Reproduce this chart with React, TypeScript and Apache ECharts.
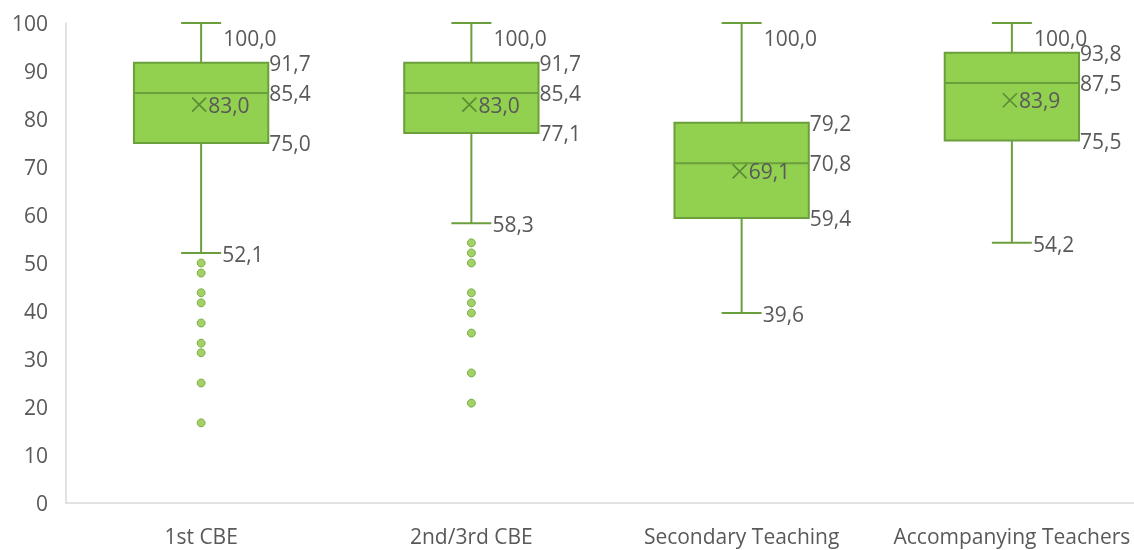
import React, { useEffect, useRef } from "react";
import * as echarts from "echarts";

const categories = ["1st CBE", "2nd/3rd CBE", "Secondary Teaching", "Accompanying Teachers"];
const minValues = [52.1, 58.3, 39.6, 54.2];
const q1Values = [75.0, 77.1, 59.4, 75.5];
const medianValues = [85.4, 85.4, 70.8, 87.5];
const q3Values = [91.7, 91.7, 79.2, 93.8];
const maxValues = [100.0, 100.0, 100.0, 100.0];
const meanValues = [83.0, 83.0, 69.1, 83.9];
const outliers1 = [50.0, 47.9, 43.8, 41.7, 37.5, 33.3, 31.3, 25.0, 16.7];
const outliers2 = [54.2, 52.1, 50.0, 43.8, 41.7, 39.6, 35.4, 27.1, 20.8];
const yTicks = { min: 0, max: 100, interval: 10 };

const BORDER = "#6b9f3c";
const FILL = "#92d050";
const TEXT = "#595959";
const FONT = '21px "Open Sans", sans-serif';

const fmt = (v: number) => v.toFixed(1).replace(".", ",");

export default function App() {
  const ref = useRef<HTMLDivElement>(null);
  useEffect(() => {
    if (!ref.current) return;
    const chart = echarts.init(ref.current, null, { renderer: "svg" });
    const boxData = categories.map((_, i) => [
      i, minValues[i], q1Values[i], medianValues[i], q3Values[i], maxValues[i], meanValues[i],
    ]);
    const outlierData: number[][] = [];
    outliers1.forEach((v) => outlierData.push([0, v]));
    outliers2.forEach((v) => outlierData.push([1, v]));

    const renderItem = (params: any, api: any) => {
      const xi = api.value(0);
      const p = (k: number) => api.coord([xi, api.value(k)]);
      const [cx, yMin] = p(1);
      const yQ1 = p(2)[1];
      const yMed = p(3)[1];
      const yQ3 = p(4)[1];
      const yMax = p(5)[1];
      const yMean = p(6)[1];
      const bw = api.size([1, 0])[0] * 0.497;
      const half = bw / 2;
      const cap = 20;
      const ls = { stroke: BORDER, lineWidth: 2 };
      const txt = (t: string, x: number, y: number) => ({
        type: "text",
        style: { text: t, x, y, fill: TEXT, font: FONT, align: "left", verticalAlign: "middle" },
      });
      const mx = cx - 2;
      const ms = 7;
      return {
        type: "group",
        children: [
          { type: "line", shape: { x1: cx, y1: yMax, x2: cx, y2: yQ3 }, style: ls },
          { type: "line", shape: { x1: cx, y1: yQ1, x2: cx, y2: yMin }, style: ls },
          { type: "line", shape: { x1: cx - cap, y1: yMax, x2: cx + cap, y2: yMax }, style: ls },
          { type: "line", shape: { x1: cx - cap, y1: yMin, x2: cx + cap, y2: yMin }, style: ls },
          {
            type: "rect",
            shape: { x: cx - half, y: yQ3, width: bw, height: yQ1 - yQ3 },
            style: { fill: FILL, stroke: BORDER, lineWidth: 2 },
          },
          { type: "line", shape: { x1: cx - half, y1: yMed, x2: cx + half, y2: yMed }, style: ls },
          { type: "line", shape: { x1: mx - ms, y1: yMean - ms, x2: mx + ms, y2: yMean + ms }, style: { stroke: "#5b8a35", lineWidth: 1.6 } },
          { type: "line", shape: { x1: mx - ms, y1: yMean + ms, x2: mx + ms, y2: yMean - ms }, style: { stroke: "#5b8a35", lineWidth: 1.6 } },
          txt(fmt(api.value(5)), cx + cap + 2, yMax + 15),
          txt(fmt(api.value(4)), cx + half + 1, yQ3),
          txt(fmt(api.value(3)), cx + half + 1, yMed),
          txt(fmt(api.value(2)), cx + half + 1, yQ1),
          txt(fmt(api.value(1)), cx + cap + 1, yMin + 1),
          txt(fmt(api.value(6)), mx + ms + 2, yMean),
        ],
      };
    };

    chart.setOption({
      animation: false,
      grid: { left: 66, right: 3, top: 23, bottom: 47, containLabel: false },
      xAxis: {
        type: "category",
        data: categories,
        boundaryGap: true,
        axisLine: { show: true, lineStyle: { color: "#d9d9d9", width: 1.5 } },
        axisTick: { show: false },
        axisLabel: {
          color: TEXT,
          fontSize: 21,
          fontFamily: "Open Sans",
          margin: 22,
          interval: 0,
          hideOverlap: false,
        },
      },
      yAxis: {
        type: "value",
        min: yTicks.min,
        max: yTicks.max,
        interval: yTicks.interval,
        axisLine: { show: true, lineStyle: { color: "#d9d9d9", width: 1.5 } },
        axisTick: { show: false },
        splitLine: { show: false },
        axisLabel: { color: TEXT, fontSize: 21, fontFamily: "Open Sans", margin: 18 },
      },
      series: [
        {
          type: "custom",
          renderItem,
          data: boxData,
          encode: { x: 0, y: [1, 2, 3, 4, 5, 6] },
        },
        {
          type: "scatter",
          data: outlierData,
          symbolSize: 8,
          itemStyle: { color: "#8cc63f", borderColor: "#6aa336", borderWidth: 1 },
        },
      ],
    });
    return () => chart.dispose();
  }, []);
  return (
    <div
      ref={ref}
      style={{ position: "fixed", left: 0, top: 0, width: 1150, height: 550 }}
    />
  );
}
